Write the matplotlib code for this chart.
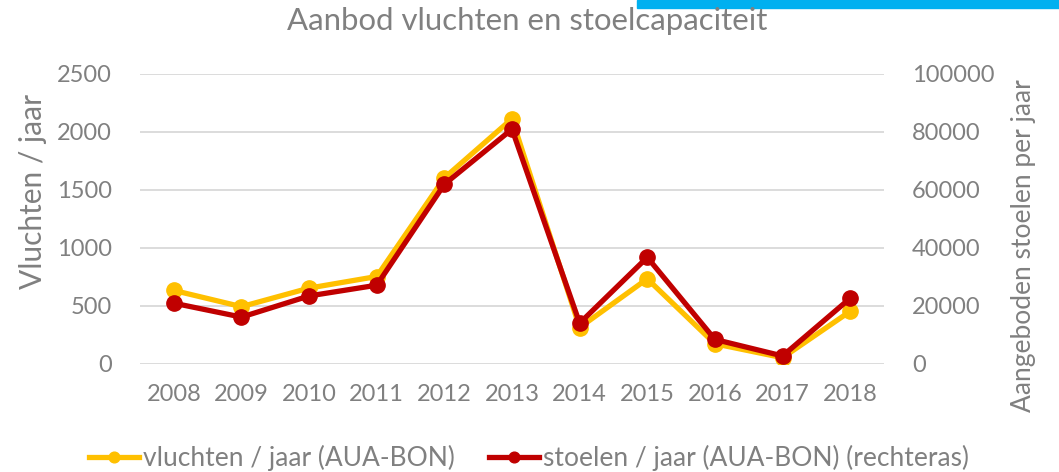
import matplotlib
matplotlib.use("Agg")
import matplotlib.pyplot as plt
from matplotlib.patches import Rectangle

years = ["2008", "2009", "2010", "2011", "2012", "2013", "2014", "2015", "2016", "2017", "2018"]
vluchten = [630, 490, 650, 750, 1600, 2110, 310, 730, 170, 50, 450]
stoelen = [20800, 16000, 23300, 27000, 61800, 80800, 13900, 36600, 8300, 2600, 22500]
left_ticks = [0, 500, 1000, 1500, 2000, 2500]
right_ticks = [0, 20000, 40000, 60000, 80000, 100000]

YELLOW = "#FFC000"
RED = "#C00000"
GRAY = "#808080"
GRID = "#D9D9D9"

plt.rcParams['font.family'] = ['Lato', 'DejaVu Sans']

W, H = 1059, 472
fig = plt.figure(figsize=(W/100, H/100), dpi=100)
ax = fig.add_axes([140/W, 1-363.5/H, (884-140)/W, 290/H])
ax2 = ax.twinx()

x = list(range(len(years)))
l1, = ax.plot(x, vluchten, color=YELLOW, lw=3.8, marker='o', ms=11, zorder=3,
              label="vluchten / jaar (AUA-BON)")
l2, = ax2.plot(x, stoelen, color=RED, lw=3.8, marker='o', ms=11, zorder=4,
               label="stoelen / jaar (AUA-BON) (rechteras)")

ax.set_xlim(-0.5, len(years) - 0.5)
ax.set_ylim(0, 2500)
ax2.set_ylim(0, 100000)
ax.set_yticks(left_ticks)
ax2.set_yticks(right_ticks)
ax.set_xticks(x)
ax.set_xticklabels(years)

for a in (ax, ax2):
    for s in a.spines.values():
        s.set_visible(False)
    a.tick_params(length=0, labelsize=17, labelcolor=GRAY)
ax.tick_params(axis='y', pad=20)
ax2.tick_params(axis='y', pad=20)
ax.tick_params(axis='x', pad=15)
ax.grid(axis='y', color=GRID, lw=1.3)
ax.set_axisbelow(True)

fig.text(33/W, 1-191/H, "Vluchten / jaar", rotation=90, ha='center', va='center',
         fontsize=21.5, color=GRAY)
fig.text(1024/W, 1-246/H, "Aangeboden stoelen per jaar", rotation=90, ha='center', va='center',
         fontsize=19, color=GRAY)

fig.text(527/W, 1-21/H, "Aanbod vluchten en stoelcapaciteit", ha='center', va='center',
         fontsize=22.4, color=GRAY)

fig.patches.append(Rectangle((637/W, 1-8/H), 1-637/W, 8/H,
                             transform=fig.transFigure, color="#00B0F0", zorder=0))

leg = fig.legend(handles=[l1, l2], loc='center', bbox_to_anchor=(529/W, 1-458/H), ncol=2,
                 frameon=False, fontsize=19, labelcolor=GRAY, handlelength=1.9,
                 handletextpad=0.15, columnspacing=1.3, markerscale=0.7,
                 borderpad=0, borderaxespad=0)

fig.savefig("out.png", dpi=100)
